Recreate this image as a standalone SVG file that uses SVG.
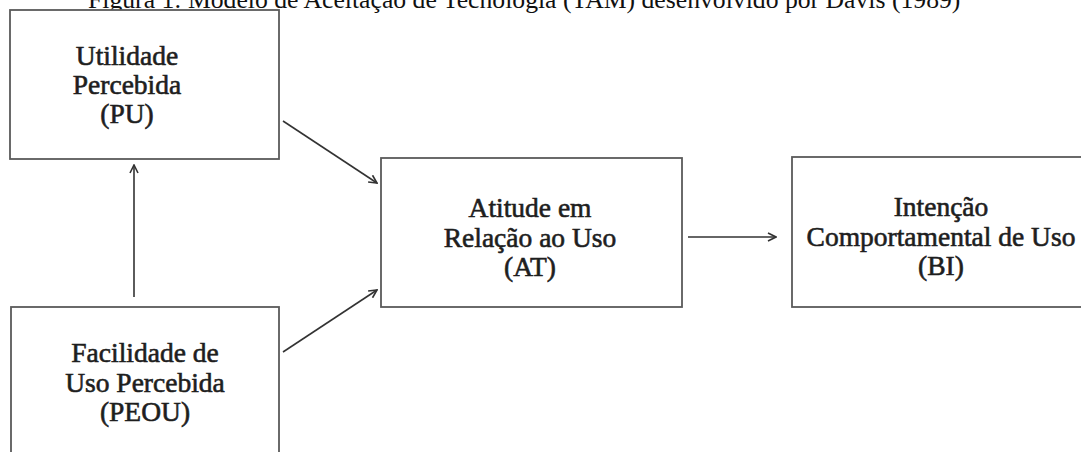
<svg xmlns="http://www.w3.org/2000/svg" width="1081" height="452" viewBox="0 0 1081 452">
<defs>
<style>
.box{fill:#fff;stroke:#5a5a5a;stroke-width:1.8}
.t{font-family:"Liberation Serif","Times New Roman",serif;font-size:27.5px;fill:#1e1e1e;stroke:#1e1e1e;stroke-width:0.6;text-anchor:middle}
.title{font-family:"Liberation Serif","Times New Roman",serif;font-size:25.7px;fill:#111}
.c{stroke:#333;stroke-width:1.6;fill:none;marker-end:url(#ah)}
</style>
<marker id="ah" viewBox="0 0 10 10" refX="9" refY="5" markerWidth="10" markerHeight="10" markerUnits="userSpaceOnUse" orient="auto">
<path d="M1,1 L9,5 L1,9" fill="none" stroke="#333" stroke-width="1.6"/>
</marker>
</defs>
<rect width="1081" height="452" fill="#fff"/>
<text class="title" x="88" y="8">Figura 1: Modelo de Aceitação de Tecnologia (TAM) desenvolvido por Davis (1989)</text>
<g id="PU">
<rect class="box" x="10" y="10" width="269" height="149"/>
<text class="t" x="127" y="65">Utilidade</text>
<text class="t" x="127" y="94">Percebida</text>
<text class="t" x="127" y="123">(PU)</text>
</g>
<g id="PEOU">
<rect class="box" x="11" y="307" width="268" height="160"/>
<text class="t" x="145" y="362">Facilidade de</text>
<text class="t" x="145" y="392">Uso Percebida</text>
<text class="t" x="145" y="421">(PEOU)</text>
</g>
<g id="AT">
<rect class="box" x="381" y="158" width="301" height="149"/>
<text class="t" x="530" y="217">Atitude em</text>
<text class="t" x="530" y="247">Relação ao Uso</text>
<text class="t" x="530" y="276">(AT)</text>
</g>
<g id="BI">
<rect class="box" x="792" y="157" width="300" height="150"/>
<text class="t" x="941" y="216">Intenção</text>
<text class="t" x="941" y="246">Comportamental de Uso</text>
<text class="t" x="941" y="275">(BI)</text>
</g>
<g id="connectors">
<line class="c" x1="134" y1="297" x2="134" y2="165"/>
<line class="c" x1="283" y1="121" x2="377" y2="183"/>
<line class="c" x1="283" y1="352" x2="377" y2="290"/>
<line class="c" x1="688" y1="237" x2="776" y2="237"/>
</g>
</svg>
